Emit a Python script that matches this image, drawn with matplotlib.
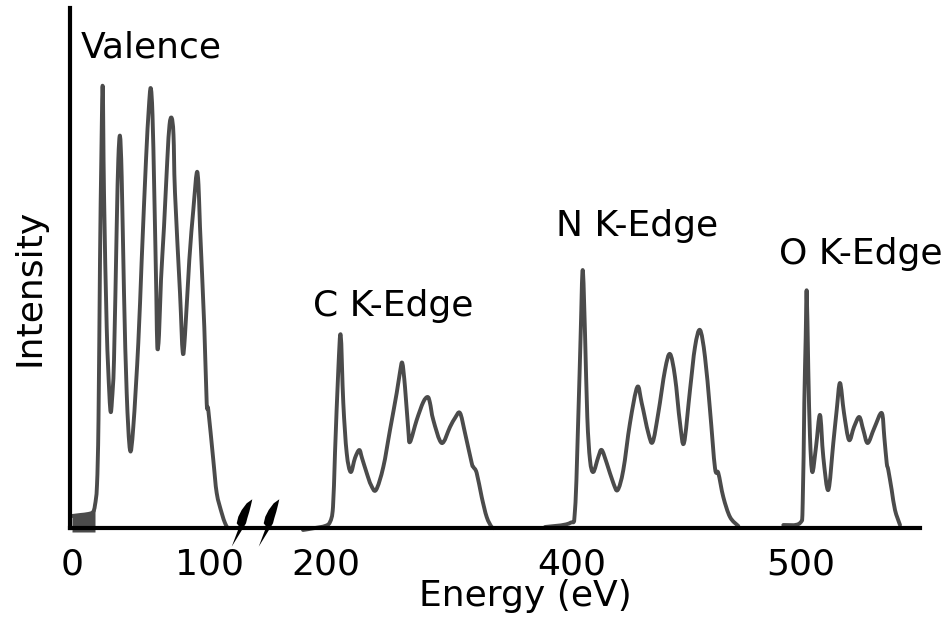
import matplotlib
matplotlib.use("Agg")
import matplotlib.pyplot as plt
import numpy as np
from matplotlib.path import Path
from matplotlib.patches import PathPatch

# ---- data (x = position along the broken energy axis, y = intensity a.u.) ----
valence_x = [2, 10, 18, 23, 25, 27, 28.5, 30, 31.3, 32.7, 34, 36.7, 39.3, 40.7, 42, 44, 46.7, 48.3, 50, 51.7,
             54, 56.7, 60, 63.3, 68.3, 71.7, 76, 78.7, 80.7, 82.5, 84.3, 86.3, 87.3, 89, 91, 94, 97.3, 99.5,
             101.7, 103.5, 105, 110, 112.7, 115, 119.3, 123.3, 126.7, 128.5, 130, 134.3, 136.7, 138.3, 143.3,
             146.7, 151.7, 155, 157]
valence_y = [12, 13, 14, 16, 23, 43, 108, 268, 368, 442, 335, 201, 135, 116, 128, 168, 301, 368, 392, 351,
             235, 135, 78, 101, 185, 268, 368, 418, 440, 413, 335, 235, 181, 193, 248, 301, 368, 403, 410, 393,
             335, 235, 176, 193, 268, 318, 355, 343, 301, 201, 125, 118, 68, 35, 15, 5, 1]

c_x = [233, 245, 255, 260, 263, 265, 268.3, 270.7, 273.3, 276.7, 280.7, 285, 289.3, 292, 296.7, 301, 306,
       313.3, 320, 326.7, 330, 332.3, 335, 338.3, 340, 346.7, 353.3, 357.7, 360, 363.3, 371.7, 380, 385, 390,
       395, 401.7, 403.3, 406.7, 411.7, 416.7, 421.7, 425]
c_y = [-2, 0, 2, 6, 21, 75, 158, 193, 125, 75, 56, 70, 78, 70, 55, 43, 38, 61, 98, 135, 156, 165, 141, 98,
       86, 108, 126, 131, 125, 108, 85, 101, 110, 115, 95, 65, 61, 55, 31, 11, 1, 0]

n_x = [475, 500, 505, 508.3, 510.7, 512.7, 515, 517.3, 520, 523.3, 528.3, 531.7, 536.7, 543.3, 547.7, 553.3,
       560, 567.3, 571.7, 578.3, 582.7, 588.3, 595, 600, 605, 610, 614, 620, 625, 630, 635, 640, 645, 648.3,
       653.3, 660, 668.3]
n_y = [1, 5, 18, 111, 195, 258, 195, 111, 68, 56, 71, 78, 65, 45, 38, 58, 105, 141, 125, 95, 86, 115, 158,
       174, 151, 105, 85, 138, 181, 198, 171, 118, 60, 55, 31, 11, 2]

o_x = [713.3, 730, 732.7, 734.3, 735.7, 736.7, 738.3, 740, 742.3, 746, 750, 753.3, 758.3, 763.3, 766.7, 770,
       774, 779, 784, 789.3, 793.3, 797.7, 804.3, 811.7, 814.3, 816.7, 818.3, 821.7, 825, 830]
o_y = [3, 5, 25, 125, 191, 237, 158, 91, 56, 81, 113, 71, 38, 85, 118, 145, 115, 88, 101, 111, 98, 85, 100,
       115, 91, 65, 58, 38, 18, 3]

tick_pos = [2, 140, 256, 502, 731]
tick_labels = ["0", "100", "200", "400", "500"]

edge_labels = ["Valence", "C K-Edge", "N K-Edge", "O K-Edge"]


def smooth_path(xs, ys):
    """Catmull-Rom through the read points, drawn as cubic Bezier segments."""
    p = np.column_stack([xs, ys]).astype(float)
    pad = np.vstack([p[0], p, p[-1]])
    verts = [tuple(p[0])]
    codes = [Path.MOVETO]
    for i in range(1, len(pad) - 2):
        p0, p1, p2, p3 = pad[i - 1], pad[i], pad[i + 1], pad[i + 2]
        c1 = p1 + (p2 - p0) / 6.0
        c2 = p2 - (p3 - p1) / 6.0
        verts += [tuple(c1), tuple(c2), tuple(p2)]
        codes += [Path.CURVE4] * 3
    return Path(verts, codes)


# ---- figure ----
W, H = 949, 624
fig = plt.figure(figsize=(W / 100, H / 100), dpi=100)
ax = fig.add_axes([70 / W, (H - 528) / H, 850 / W, 520 / H])
ax.set_xlim(0, 850)
ax.set_ylim(0, 520)

line_color = "#4b4b4b"
lw = 2.8
for xs, ys in [(valence_x, valence_y), (c_x, c_y), (n_x, n_y), (o_x, o_y)]:
    patch = PathPatch(smooth_path(xs, ys), facecolor="none", edgecolor=line_color, lw=lw,
                      joinstyle="round", capstyle="round", clip_on=False, zorder=2)
    ax.add_patch(patch)

# dark wedge at the start of the valence band
ax.fill_between(valence_x[:5], [-4] * 5, valence_y[:5], color=line_color, lw=0, clip_on=False, zorder=2)

for s in ["top", "right"]:
    ax.spines[s].set_visible(False)
for s in ["left", "bottom"]:
    ax.spines[s].set_linewidth(3)
    ax.spines[s].set_color("black")
    ax.spines[s].set_zorder(3)

ax.set_xticks(tick_pos)
ax.set_xticklabels(tick_labels, fontsize=26)
ax.set_yticks([])
ax.tick_params(axis="x", length=0, pad=14)

ax.set_xlabel("Energy (eV)", fontsize=26)
ax.xaxis.set_label_coords(455 / 850, -0.098)
ax.xaxis.label.set_va("top")
ax.set_ylabel("Intensity", fontsize=26)
ax.yaxis.set_label_coords(-40 / 850, 241 / 520)
ax.yaxis.label.set_va("center")

label_pos = [(10.5, 471), (243, 212), (486.5, 292), (709, 264)]
for txt, (lx, ly) in zip(edge_labels, label_pos):
    ax.text(lx, ly, txt, fontsize=26, ha="left", va="baseline", clip_on=False)

# axis-break marks (lightning-bolt shapes) over the x axis
bolt = [(252.3, 499.3), (251, 505), (249.3, 511.7), (247.3, 518.3), (246, 523.3), (245, 525),
        (231.7, 546.7), (239.3, 526.7), (236.7, 523.3), (238.3, 516.7), (241.7, 510), (246.7, 503.3)]
for dx in (0, 27):
    px = [pt[0] + dx - 70 for pt in bolt]
    py = [528 - pt[1] for pt in bolt]
    ax.fill(px, py, color="black", lw=0, clip_on=False, zorder=4)

fig.savefig("out.png", dpi=100)
